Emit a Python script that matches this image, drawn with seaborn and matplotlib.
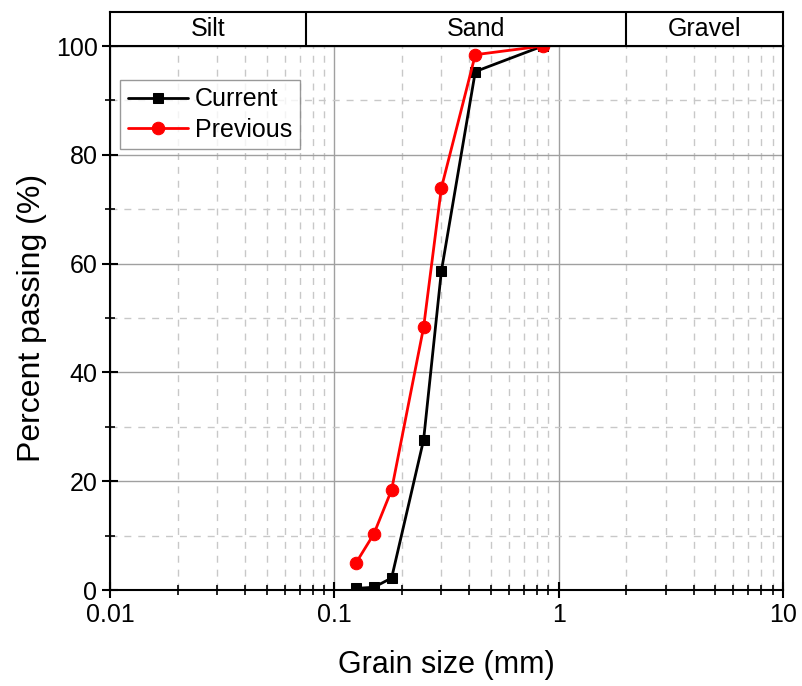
import matplotlib
matplotlib.use("Agg")
import matplotlib.pyplot as plt
import seaborn as sns
import pandas as pd
import numpy as np
from matplotlib.ticker import LogLocator, FixedLocator, NullFormatter, FuncFormatter

grain_size = [0.125, 0.15, 0.18, 0.25, 0.30, 0.425, 0.85]
current = [0.3, 0.5, 2.2, 27.6, 58.6, 95.3, 100.0]
previous = [5.0, 10.3, 18.4, 48.3, 73.9, 98.4, 100.0]
zones = ["Silt", "Sand", "Gravel"]
zone_bounds = [0.075, 2.0]

sns.set_style("white")
plt.rcParams['font.family'] = ['Liberation Sans', 'DejaVu Sans']
plt.rcParams['text.color'] = 'black'
plt.rcParams['axes.labelcolor'] = 'black'

df = pd.DataFrame({"size": grain_size * 2,
                   "pct": current + previous,
                   "series": ["Current"] * len(grain_size) + ["Previous"] * len(grain_size)})

fig = plt.figure(figsize=(8.02, 6.86), dpi=100)
W, H = 802, 686
L, R, T, B = 110, 783, 46, 590
ax = fig.add_axes([L / W, 1 - B / H, (R - L) / W, (B - T) / H])
hx = fig.add_axes([L / W, 1 - T / H, (R - L) / W, (T - 12) / H])

sns.lineplot(data=df[df.series == "Current"], x="size", y="pct", ax=ax, color="black",
             marker="s", markersize=7.5, markeredgecolor="black", linewidth=2, label="Current")
sns.lineplot(data=df[df.series == "Previous"], x="size", y="pct", ax=ax, color="#ff0000",
             marker="o", markersize=9, markeredgecolor="#ff0000", linewidth=2, label="Previous")

ax.set_xscale("log")
ax.set_xlim(0.01, 10)
ax.set_ylim(0, 100)
ax.xaxis.set_major_locator(LogLocator(base=10, numticks=10))
ax.xaxis.set_minor_locator(LogLocator(base=10, subs=np.arange(2, 10), numticks=20))
ax.xaxis.set_minor_formatter(NullFormatter())
ax.xaxis.set_major_formatter(FuncFormatter(lambda v, p: {0.01: "0.01", 0.1: "0.1", 1: "1", 10: "10"}.get(round(v, 3), "")))
ax.yaxis.set_major_locator(FixedLocator([0, 20, 40, 60, 80, 100]))
ax.yaxis.set_minor_locator(FixedLocator([10, 30, 50, 70, 90]))

ax.grid(which="major", color="#a0a0a0", linewidth=1, linestyle="-")
ax.grid(which="minor", color="#c8c8c8", linewidth=1, linestyle=(0, (5, 5)))
ax.set_axisbelow(True)

for s in ax.spines.values():
    s.set_color("black")
    s.set_linewidth(1.5)
ax.tick_params(axis="both", which="major", direction="inout", length=12, width=1.5, labelsize=18,
               bottom=True, left=True, colors="black", labelcolor="black", pad=3)
ax.tick_params(axis="both", which="minor", direction="inout", length=7, width=1.2,
               bottom=True, left=True, colors="black")

ax.set_xlabel("Grain size (mm)", fontsize=22, labelpad=17)
ax.set_ylabel("Percent passing (%)", fontsize=23, labelpad=6)

leg = ax.legend(loc="upper left", bbox_to_anchor=(0.015, 0.9375), fontsize=18, frameon=True,
                fancybox=False, edgecolor="#808080", handlelength=2.4, borderpad=0.3,
                labelspacing=0.25, handletextpad=0.3, borderaxespad=0.0)
leg.get_frame().set_linewidth(1)

hx.set_xscale("log")
hx.set_xlim(0.01, 10)
hx.set_ylim(0, 1)
hx.set_xticks([])
hx.set_yticks([])
hx.minorticks_off()
for s in hx.spines.values():
    s.set_color("black")
    s.set_linewidth(1.5)
for b in zone_bounds:
    hx.axvline(b, color="black", linewidth=1.5)
edges = [0.01] + zone_bounds + [10]
for i, z in enumerate(zones):
    c = np.sqrt(edges[i] * edges[i + 1])
    if z == "Sand":
        c = 0.43
    hx.text(c, 0.5, z, ha="center", va="center", fontsize=18)

fig.savefig("out.png", dpi=100)
